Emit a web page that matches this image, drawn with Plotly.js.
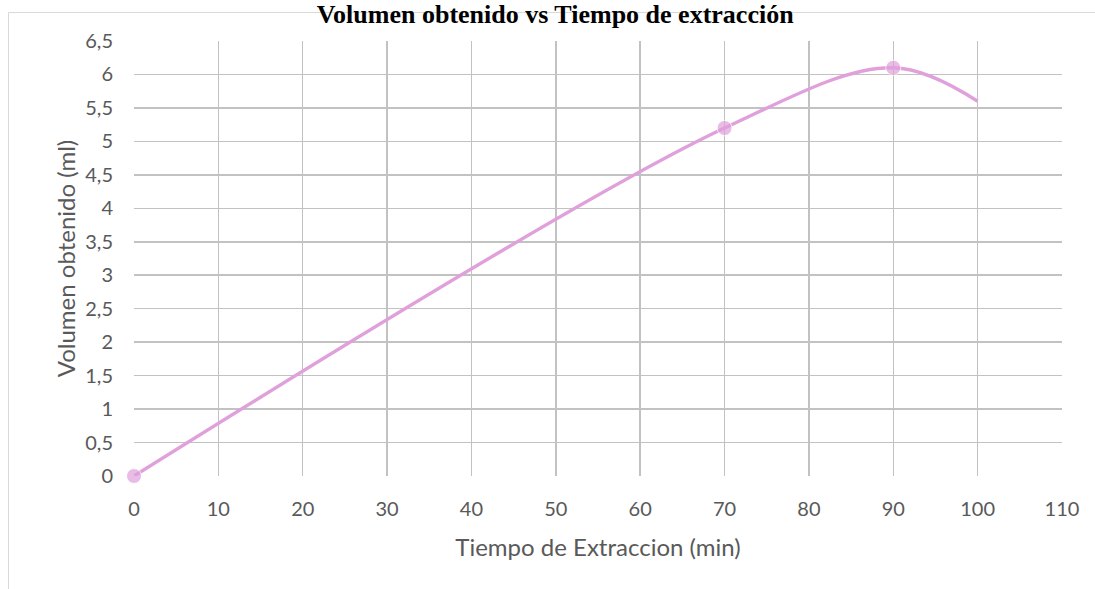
<!DOCTYPE html>
<html>
<head>
<meta charset="utf-8">
<script src="https://cdn.plot.ly/plotly-3.0.1.min.js"></script>
<style>html,body{margin:0;padding:0;background:#fff;}#chart{width:1095px;height:589px;}</style>
</head>
<body>
<div id="chart"></div>
<script>
const tiempo = [0, 70, 90, 100];
const volumen = [0, 5.2, 6.1, 5.6];
const markedCount = 3; // last point drawn without marker
const chartTitle = "Volumen obtenido vs Tiempo de extracción";
const xTitle = "Tiempo de Extraccion (min)";
const yTitle = "Volumen obtenido (ml)";

const W = 1095, H = 589;
const m = {l: 134, r: 33, t: 41, b: 113};
const pw = W - m.l - m.r, ph = H - m.t - m.b;
const px = v => (v - m.l) / pw;
const py = v => (H - m.b - v) / ph;

const col = '#DFA0DB';
const sizes = tiempo.map((v, i) => i < markedCount ? 15 : 0);

const trace = {
  x: tiempo, y: volumen, type: 'scatter', mode: 'lines+markers',
  line: {shape: 'spline', smoothing: 1, color: col, width: 3.4},
  marker: {size: sizes, color: col},
  cliponaxis: false,
  hoverinfo: 'x+y'
};

const gridCol = '#C2C2C2';
const fam = 'Lato, "Open Sans", sans-serif';
const tickFont = {family: fam, size: 20, color: '#595959'};
const layout = {
  width: W, height: H,
  margin: m,
  separators: ',.',
  paper_bgcolor: '#fff', plot_bgcolor: '#fff',
  showlegend: false,
  title: {text: '<b>' + chartTitle + '</b>', font: {family: '"Liberation Serif", "Times New Roman", serif', size: 26, color: '#000'},
          x: 0.507, xref: 'container', xanchor: 'center', y: 0.992, yref: 'container', yanchor: 'top', pad: {t: 0}},
  xaxis: {range: [0, 110], dtick: 10, tick0: 0, showgrid: true, gridcolor: gridCol, gridwidth: 1.5,
          zeroline: false, showline: false, ticks: '', ticklabelstandoff: 19, tickfont: tickFont,
          title: {text: xTitle, font: {family: fam, size: 24, color: '#595959'}, standoff: 20},
          fixedrange: true},
  yaxis: {range: [0, 6.5], dtick: 0.5, tick0: 0, showgrid: true, gridcolor: gridCol, gridwidth: 1.5,
          zeroline: false, showline: false, ticks: '', ticklabelstandoff: 20, tickfont: tickFont,
          title: {text: yTitle, font: {family: fam, size: 24, color: '#595959'}, standoff: 2},
          fixedrange: true},
  shapes: [
    {type: 'rect', xref: 'paper', yref: 'paper', x0: px(8.5), x1: px(1100), y0: py(600), y1: py(12.5),
     line: {color: '#D9D9D9', width: 1}, fillcolor: 'rgba(0,0,0,0)', layer: 'below'}
  ]
};
Plotly.newPlot('chart', [trace], layout, {displayModeBar: false, staticPlot: true});
</script>
</body>
</html>
